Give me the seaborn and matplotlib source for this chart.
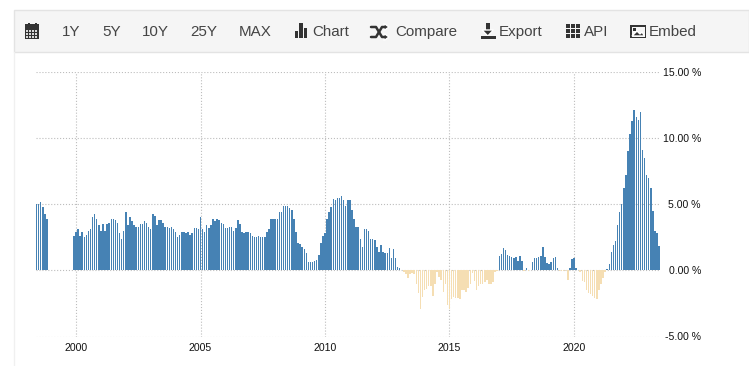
import numpy as np
import pandas as pd
import matplotlib; matplotlib.use("Agg")
import matplotlib.pyplot as plt
from matplotlib.patches import Rectangle, Polygon
import seaborn as sns

sns.set_theme(style="white")
plt.rcParams["font.family"] = ["Liberation Sans", "DejaVu Sans"]

W, H = 749, 366

# monthly values, % (1998 starts in June, 1999 only has December)
y1998 = [5.0, 5.0, 5.2, 4.8, 4.3, 3.9]
y1999 = [2.6]
y2000 = [2.9, 3.1, 2.6, 2.9, 2.5, 2.7, 3.0, 3.1, 4.0, 4.3, 3.9, 3.4]
y2001 = [3.0, 3.5, 3.0, 3.5, 3.6, 3.9, 3.9, 3.8, 3.6, 2.8, 2.4, 3.0]
y2002 = [4.4, 3.4, 4.0, 3.7, 3.4, 3.3, 3.3, 3.5, 3.5, 3.7, 3.6, 3.3]
y2003 = [3.1, 4.3, 4.1, 3.4, 3.8, 3.8, 3.6, 3.3, 3.3, 3.2, 3.3, 3.1]
y2004 = [2.9, 2.5, 2.7, 2.9, 2.9, 2.8, 2.9, 2.7, 2.8, 3.2, 3.2, 3.1]
y2005 = [4.0, 3.1, 2.9, 3.4, 3.2, 3.4, 3.9, 3.7, 3.9, 3.8, 3.6, 3.5]
y2006 = [3.2, 3.2, 3.3, 3.3, 3.0, 3.2, 3.8, 3.5, 2.9, 2.8, 2.9, 2.9]
y2007 = [2.8, 2.6, 2.5, 2.5, 2.6, 2.5, 2.5, 2.5, 2.9, 3.1, 3.9, 3.9]
y2008 = [3.9, 3.9, 4.4, 4.4, 4.9, 4.9, 4.9, 4.7, 4.6, 3.9, 2.9, 2.1]
y2009 = [2.0, 1.8, 1.6, 1.3, 0.6, 0.6, 0.6, 0.7, 0.8, 1.2, 2.1, 2.6]
y2010 = [2.8, 3.9, 4.4, 4.8, 5.4, 5.3, 5.5, 5.5, 5.6, 5.3, 4.9, 5.3]
y2011 = [5.3, 4.6, 3.9, 3.3, 3.3, 2.4, 1.8, 3.1, 3.1, 3.0, 2.4, 2.4]
y2012 = [2.3, 1.8, 1.4, 1.9, 1.4, 1.3, 1.3, 1.7, 0.9, 1.6, 0.9, 0.25]
y2013 = [0.2, 0.05, -0.1, -0.3, -0.6, -0.25, -0.2, -0.3, -1.0, -1.7, -2.9, -2.0]
y2014 = [-1.5, -1.4, -1.2, -1.2, -1.9, -1.0, -0.1, -0.5, -0.7, -1.6, -1.0, -2.6]
y2015 = [-2.9, -2.2, -2.0, -2.1, -2.1, -2.2, -1.5, -1.5, -1.6, -1.3, -1.0, -0.2]
y2016 = [-0.8, -1.5, -1.2, -1.0, -1.0, -0.9, -0.7, -1.0, -1.0, -0.9, -0.1, -0.05]
y2017 = [1.1, 1.25, 1.7, 1.55, 1.2, 1.05, 1.0, 0.9, 1.0, 0.7, 1.1, 0.7]
y2018 = [-0.05, 0.15, -0.05, 0.02, 0.6, 0.95, 0.95, 1.0, 1.1, 1.8, 1.0, 0.55]
y2019 = [0.45, 0.6, 0.9, 1.0, 0.2, -0.05, -0.03, -0.05, -0.03, -0.7, 0.15, 0.85]
y2020 = [0.9, 0.2, 0.02, -0.1, -0.8, -0.9, -1.5, -1.7, -1.8, -1.9, -2.1, -2.2]
y2021 = [-1.5, -1.0, -0.6, -0.1, 0.1, 0.45, 1.4, 1.9, 2.2, 3.4, 4.4, 5.05]
y2022 = [6.2, 7.2, 9.0, 10.3, 11.3, 12.1, 11.6, 11.4, 12.0, 9.1, 8.5, 7.2]
y2023 = [7.0, 6.2, 4.5, 3.0, 2.8, 1.85]

year_tick_labels = [2000, 2005, 2010, 2015, 2020]
pct_ticks = [-5, 0, 5, 10, 15]
menu_labels = ["1Y", "5Y", "10Y", "25Y", "MAX", "Chart", "Compare", "Export", "API", "Embed"]
menu_x = [62, 102, 142, 190, 239, 312, 395, 499, 584, 649]

rows = [(1998, 5, y1998), (1999, 11, y1999)]
all_years = [y2000, y2001, y2002, y2003, y2004, y2005, y2006, y2007, y2008, y2009, y2010, y2011,
             y2012, y2013, y2014, y2015, y2016, y2017, y2018, y2019, y2020, y2021, y2022, y2023]
rows += [(2000 + i, 0, v) for i, v in enumerate(all_years)]

# whole month number keeps the spacing exact for the native scale
recs = []
for yr, start, vals in rows:
    for m, v in enumerate(vals):
        recs.append({"month": yr * 12 + start + m, "value": v})
df = pd.DataFrame(recs)
df["sign"] = np.where(df["value"] >= 0, "up", "down")

fig = plt.figure(figsize=(W / 100, H / 100), dpi=100)
left, right, top, bottom = 36, 660, 72, 336.5
ax = fig.add_axes([left / W, 1 - bottom / H, (right - left) / W, (bottom - top) / H])

sns.barplot(data=df, x="month", y="value", hue="sign", native_scale=True, dodge=False,
            palette={"up": "#4682B4", "down": "#F5DEB3"}, saturation=1, width=0.72,
            linewidth=0, errorbar=None, legend=False, ax=ax)

px_per_year = 24.9
ax.set_xlim((2000 - 40 / px_per_year) * 12, (2000 + 584 / px_per_year) * 12)
ax.set_ylim(-5, 15)
ax.set_xticks([y * 12 for y in year_tick_labels])
ax.set_xticklabels([str(y) for y in year_tick_labels])
ax.set_yticks(pct_ticks)
ax.set_yticklabels([f"{v:.2f} %" for v in pct_ticks], ha="right")
ax.set_xlabel("")
ax.set_ylabel("")
ax.yaxis.tick_right()
ax.tick_params(axis="y", length=0, pad=29.5, labelsize=7.6, labelcolor="#111111")
ax.tick_params(axis="x", length=0, pad=4.5, labelsize=7.6, labelcolor="#111111")
ax.grid(True, color="#bdbdbd", linestyle=":", linewidth=0.8)
ax.set_axisbelow(True)
sns.despine(ax=ax, left=True, bottom=True, right=True, top=True)

# toolbar overlay in pixel coordinates
ov = fig.add_axes([0, 0, 1, 1], facecolor="none")
ov.set_xlim(0, W)
ov.set_ylim(H, 0)
ov.axis("off")
ov.add_patch(Rectangle((14, 10), W - 14, 42, facecolor="#f5f5f5", edgecolor="#e3e3e3", linewidth=1))
ov.plot([14, 14], [52, H], color="#f0f0f0", linewidth=1)

for lab, x in zip(menu_labels, menu_x):
    ov.text(x, 32, lab, fontsize=10.9, color="#444444", ha="left", va="center")

ICON = "#333333"
def box(x, y, w, h, c=ICON):
    ov.add_patch(Rectangle((x, y), w, h, facecolor=c, edgecolor="none"))

# calendar
box(25, 26, 14, 13)
box(25, 24, 14, 1.5)
box(27.5, 23, 2, 3)
box(34.5, 23, 2, 3)
for cx in np.arange(26, 38, 3):
    for cy in (30, 33, 36):
        box(cx, cy, 2, 2, "#d8d8d8")
# chart
box(294.5, 31, 3.5, 7)
box(299, 23, 3.5, 15)
box(303.5, 28, 3.5, 10)
# compare (crossed arrows)
ov.plot([371, 376, 382, 385], [27, 27, 37, 37], color=ICON, linewidth=1.8)
ov.plot([371, 376, 382, 385], [37, 37, 27, 27], color=ICON, linewidth=1.8)
ov.add_patch(Polygon([(384, 23.5), (389, 27), (384, 30.5)], facecolor=ICON))
ov.add_patch(Polygon([(384, 33.5), (389, 37), (384, 40.5)], facecolor=ICON))
# export
box(486, 23, 3.5, 8)
ov.add_patch(Polygon([(482, 30), (493.5, 30), (487.8, 36)], facecolor=ICON))
box(480.5, 36, 15, 3)
# api grid
for gx in (565.5, 570.5, 575.5):
    for gy in (24, 29, 34):
        box(gx, gy, 4, 4)
# embed picture
box(630, 25, 16, 13)
box(631.5, 26.5, 13, 10, "#f5f5f5")
ov.add_patch(Polygon([(632, 36), (637, 31), (640, 34), (642, 32), (644.5, 36)], facecolor=ICON))
box(633, 27.5, 3, 3)

fig.savefig("out.png", dpi=100)
plt.close(fig)
